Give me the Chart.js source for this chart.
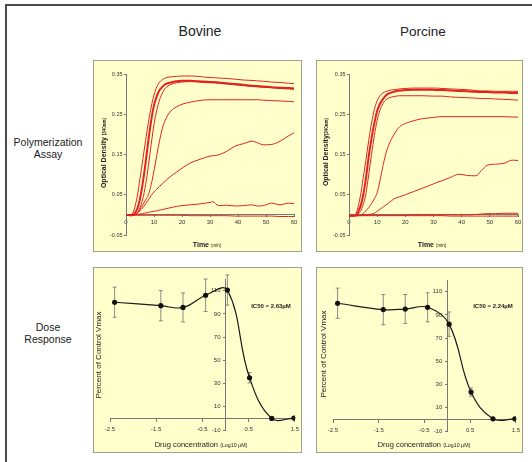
<!DOCTYPE html>
<html>
<head>
<meta charset="utf-8">
<script src="https://cdn.jsdelivr.net/npm/chart.js@4.4.0/dist/chart.umd.min.js"></script>
<style>
  body { margin: 0; background: #fff; font-family: "Liberation Sans", Arial, sans-serif; }
  #fig { position: relative; width: 532px; height: 462px; overflow: hidden; }
  .frame { position: absolute; left: 5px; top: 4px; width: 540px; height: 470px; border-top: 2px solid #4a4a4a; border-left: 2px solid #4a4a4a; }
  .panel { position: absolute; background: #ffffcc; border: 1px solid #a09f90; box-sizing: border-box; }
  .panel canvas { position: absolute; left: 0; top: 0; }
  .txt { position: absolute; white-space: nowrap; color: #222; transform: translate(-50%, -50%); }
  .rot { transform: translate(-50%, -50%) rotate(-90deg); }
</style>
</head>
<body>
<div id="fig">
  <div class="frame"></div>

  <div class="txt" style="left:200px; top:31px; font-size:14px;">Bovine</div>
  <div class="txt" style="left:423px; top:31px; font-size:13.5px;">Porcine</div>

  <div class="txt" style="left:48px; top:148px; font-size:10.5px; text-align:center; line-height:12px;">Polymerization<br>Assay</div>
  <div class="txt" style="left:48px; top:333px; font-size:10.5px; text-align:center; line-height:12px;">Dose<br>Response</div>

  <div class="panel" style="left:93px; top:60px; width:209px; height:192px;"><canvas id="polyBov" width="209" height="192"></canvas></div>
  <div class="panel" style="left:316px; top:60px; width:207px; height:192px;"><canvas id="polyPor" width="207" height="192"></canvas></div>
  <div class="panel" style="left:93px; top:267px; width:209px; height:186px;"><canvas id="doseBov" width="209" height="186"></canvas></div>
  <div class="panel" style="left:316px; top:267px; width:207px; height:186px;"><canvas id="dosePor" width="207" height="186"></canvas></div>

  <div class="txt rot" style="left:103px; top:153px; font-size:7px; font-weight:bold;">Optical Density <span style="font-size:4.5px;">(340nm)</span></div>
  <div class="txt rot" style="left:325px; top:152px; font-size:7px; font-weight:bold;">Optical Density<span style="font-size:4.5px;">(340nm)</span></div>
  <div class="txt" style="left:207px; top:244px; font-size:7px; font-weight:bold;">Time <span style="font-size:4.5px; font-weight:normal;">(min)</span></div>
  <div class="txt" style="left:432px; top:244px; font-size:7px; font-weight:bold;">Time <span style="font-size:4.5px; font-weight:normal;">(min)</span></div>

  <div class="txt rot" style="left:98px; top:355px; font-size:8px;">Percent of Control Vmax</div>
  <div class="txt rot" style="left:323px; top:354px; font-size:8px;">Percent of Control Vmax</div>
  <div class="txt" style="left:201px; top:444px; font-size:7.5px;">Drug concentration <span style="font-size:5.3px;">(Log10 µM)</span></div>
  <div class="txt" style="left:424px; top:444px; font-size:7.5px;">Drug concentration <span style="font-size:5.3px;">(Log10 µM)</span></div>

  <div class="txt" style="left:271px; top:306px; font-size:6px; font-weight:bold;">IC50 = 2.63µM</div>
  <div class="txt" style="left:493px; top:306px; font-size:6px; font-weight:bold;">IC50 = 2.24µM</div>
</div>

<script>
// time points (min) shared by all polymerization traces
const timeMin = [0, 2, 4, 5, 6, 7, 8, 9, 10, 11, 12, 13, 14, 16, 18, 20, 23, 26, 30, 31, 33, 36, 39, 42, 45, 47, 49, 52, 55, 58, 60];
const timeTicks = [0, 10, 20, 30, 40, 50, 60];
const odTicks = [-0.05, 0.05, 0.15, 0.25, 0.35];

// bovine OD340 traces
const bov1 = [0, 0.001, 0.045, 0.09, 0.137, 0.185, 0.23, 0.268, 0.298, 0.318, 0.33, 0.336, 0.34, 0.343, 0.344, 0.345, 0.345, 0.344, 0.341, 0.341, 0.34, 0.339, 0.337, 0.335, 0.334, 0.333, 0.332, 0.33, 0.329, 0.327, 0.326];
const bov2 = [0, -0.001, 0.015, 0.04, 0.08, 0.13, 0.185, 0.235, 0.272, 0.295, 0.31, 0.318, 0.324, 0.329, 0.332, 0.333, 0.333, 0.332, 0.33, 0.33, 0.329, 0.327, 0.325, 0.323, 0.321, 0.32, 0.319, 0.317, 0.316, 0.315, 0.314];
const bov3 = [0, -0.002, 0.005, 0.018, 0.04, 0.075, 0.122, 0.175, 0.225, 0.26, 0.286, 0.303, 0.314, 0.324, 0.328, 0.33, 0.331, 0.33, 0.328, 0.328, 0.327, 0.325, 0.323, 0.321, 0.319, 0.318, 0.317, 0.316, 0.314, 0.313, 0.312];
const bov4 = [0, -0.001, 0.005, 0.014, 0.025, 0.037, 0.05, 0.075, 0.11, 0.148, 0.185, 0.215, 0.235, 0.258, 0.268, 0.275, 0.28, 0.284, 0.286, 0.286, 0.286, 0.286, 0.286, 0.286, 0.286, 0.286, 0.285, 0.284, 0.283, 0.282, 0.281];
const bov5 = [0, 0, 0.004, 0.01, 0.018, 0.027, 0.037, 0.048, 0.057, 0.064, 0.071, 0.077, 0.084, 0.096, 0.106, 0.116, 0.129, 0.137, 0.146, 0.147, 0.149, 0.158, 0.171, 0.177, 0.183, 0.179, 0.174, 0.175, 0.183, 0.196, 0.204];
const bov6 = [0, 0, 0.001, 0.002, 0.003, 0.005, 0.006, 0.008, 0.009, 0.01, 0.012, 0.013, 0.015, 0.018, 0.021, 0.023, 0.025, 0.027, 0.031, 0.033, 0.023, 0.024, 0.022, 0.023, 0.025, 0.022, 0.023, 0.029, 0.025, 0.029, 0.028];
const bov7 = [0, -0.001, -0.001, -0.001, -0.001, -0.001, -0.001, -0.001, -0.001, -0.001, -0.001, -0.001, -0.001, -0.001, -0.001, -0.001, -0.002, -0.002, -0.002, -0.002, -0.002, -0.002, -0.003, -0.003, -0.003, -0.003, -0.003, -0.003, -0.004, -0.004, -0.004];

// porcine OD340 traces
const por1 = [-0.002, -0.001, 0.045, 0.09, 0.136, 0.185, 0.228, 0.262, 0.283, 0.296, 0.303, 0.306, 0.309, 0.311, 0.313, 0.314, 0.315, 0.315, 0.315, 0.315, 0.314, 0.313, 0.312, 0.311, 0.309, 0.308, 0.308, 0.307, 0.307, 0.307, 0.307];
const por2 = [-0.002, -0.002, 0.02, 0.048, 0.09, 0.145, 0.19, 0.228, 0.258, 0.276, 0.287, 0.296, 0.301, 0.306, 0.309, 0.31, 0.311, 0.311, 0.311, 0.31, 0.31, 0.309, 0.308, 0.307, 0.306, 0.305, 0.305, 0.304, 0.304, 0.303, 0.303];
const por3 = [-0.002, -0.002, 0.008, 0.025, 0.052, 0.1, 0.15, 0.197, 0.235, 0.26, 0.276, 0.285, 0.29, 0.294, 0.296, 0.296, 0.296, 0.296, 0.295, 0.295, 0.295, 0.293, 0.292, 0.291, 0.29, 0.289, 0.289, 0.288, 0.287, 0.286, 0.285];
const por4 = [-0.002, -0.002, -0.001, 0.003, 0.01, 0.018, 0.028, 0.04, 0.055, 0.085, 0.12, 0.15, 0.172, 0.2, 0.219, 0.227, 0.234, 0.239, 0.242, 0.243, 0.244, 0.244, 0.244, 0.244, 0.244, 0.244, 0.244, 0.244, 0.244, 0.243, 0.243];
const por5 = [-0.002, -0.002, -0.002, -0.001, 0, 0.001, 0.002, 0.004, 0.009, 0.014, 0.019, 0.024, 0.029, 0.04, 0.045, 0.05, 0.058, 0.066, 0.077, 0.08, 0.085, 0.093, 0.101, 0.098, 0.097, 0.11, 0.123, 0.126, 0.128, 0.136, 0.135];
const por6 = [-0.001, -0.001, -0.001, -0.001, -0.001, -0.001, -0.001, -0.001, -0.001, -0.001, -0.001, -0.001, -0.001, -0.001, -0.001, -0.001, 0, 0, 0, 0, 0, 0, 0, 0, 0.001, 0.002, 0.003, 0.003, 0.004, 0.004, 0.004];
const por7 = [-0.002, -0.002, -0.002, -0.002, -0.002, -0.002, -0.002, -0.002, -0.002, -0.002, -0.002, -0.002, -0.002, -0.002, -0.002, -0.002, -0.002, -0.002, -0.002, -0.002, -0.002, -0.003, -0.003, -0.003, -0.003, -0.003, -0.003, -0.003, -0.003, -0.003, -0.003];

// dose response, x = log10 concentration (uM)
const logConc = [-2.4, -1.4, -0.92, -0.43, 0.04, 0.52, 1.0, 1.48];
const doseXTicks = [-2.5, -1.5, -0.5, 0.5, 1.5];
const doseYTicks = [-10, 10, 30, 50, 70, 90, 110];
const bovVmax = [100, 97, 95.5, 106, 110.5, 35, 0, 0.3];
const bovErr = [13, 13, 12.5, 14, 13, 4.5, 1, 0.5];
const porVmax = [100, 94.5, 95, 96.5, 82, 23.5, 0.5, 0.5];
const porErr = [13, 13, 12.5, 12.5, 10.5, 3.5, 1, 0.5];

const FONT = "'Liberation Sans', Arial, sans-serif";
const RED = '#e0231d';

// vertical error bars with small caps
const errorBars = {
  id: 'errorBars',
  beforeDatasetsDraw(chart) {
    const ctx = chart.ctx;
    const xs = chart.scales.x, ys = chart.scales.y;
    chart.data.datasets.forEach(ds => {
      if (!ds.errors) return;
      ctx.save();
      ctx.strokeStyle = '#707070';
      ctx.lineWidth = 0.8;
      ds.data.forEach((p, i) => {
        const e = ds.errors[i];
        const px = xs.getPixelForValue(p.x);
        const top = ys.getPixelForValue(p.y + e);
        const bot = ys.getPixelForValue(p.y - e);
        ctx.beginPath();
        ctx.moveTo(px, top); ctx.lineTo(px, bot);
        ctx.moveTo(px - 2, top); ctx.lineTo(px + 2, top);
        ctx.moveTo(px - 2, bot); ctx.lineTo(px + 2, bot);
        ctx.stroke();
      });
      ctx.restore();
    });
  }
};

function fixedTicks(list) {
  return s => { s.ticks = list.map(v => ({ value: v })); };
}

function plotPoly(id, series, pad) {
  const datasets = series.map((ys, i) => ({
    data: timeMin.map((t, j) => ({ x: t, y: ys[j] })),
    borderColor: RED,
    borderWidth: i == 1 ? 2 : 1,
    pointRadius: 0,
    cubicInterpolationMode: 'monotone',
    fill: false
  }));
  new Chart(document.getElementById(id), {
    type: 'line',
    data: { datasets: datasets },
    options: {
      responsive: false,
      animation: false,
      devicePixelRatio: 1,
      layout: { padding: { left: 0, top: pad.top, right: pad.right, bottom: pad.bottom } },
      plugins: { legend: { display: false }, tooltip: { enabled: false } },
      scales: {
        x: {
          type: 'linear', position: { y: 0 }, min: 0, max: 60,
          afterBuildTicks: fixedTicks(timeTicks),
          afterFit: s => { s.height = 0; },
          grid: { drawOnChartArea: false, tickLength: 2, color: '#777' },
          border: { color: '#777' },
          ticks: { font: { size: 6, family: FONT }, color: '#333', padding: 2, maxRotation: 0, autoSkip: false }
        },
        y: {
          type: 'linear', position: 'left', min: -0.05, max: 0.35,
          afterBuildTicks: fixedTicks(odTicks),
          afterFit: s => { s.width = pad.left; },
          grid: { drawOnChartArea: false, tickLength: 2, color: '#777' },
          border: { color: '#777' },
          ticks: { font: { size: 5.5, family: FONT }, color: '#333', padding: 1.5, callback: v => v.toFixed(2) }
        }
      }
    }
  });
}

function plotDose(id, vmax, err, pad) {
  new Chart(document.getElementById(id), {
    type: 'line',
    data: {
      datasets: [{
        data: logConc.map((x, i) => ({ x: x, y: vmax[i] })),
        errors: err,
        borderColor: '#1a1a1a',
        borderWidth: 1.2,
        tension: 0.4,
        pointRadius: 2,
        pointBackgroundColor: '#111',
        pointBorderColor: '#111',
        fill: false
      }]
    },
    options: {
      responsive: false,
      animation: false,
      devicePixelRatio: 1,
      layout: { padding: pad },
      plugins: { legend: { display: false }, tooltip: { enabled: false } },
      scales: {
        x: {
          type: 'linear', position: { y: 0 }, min: -2.5, max: 1.5,
          afterBuildTicks: fixedTicks(doseXTicks),
          afterFit: s => { s.height = 0; },
          grid: { drawOnChartArea: false, tickLength: 3, color: '#777' },
          border: { color: '#777' },
          ticks: { font: { size: 6, family: FONT }, color: '#333', padding: 4, maxRotation: 0, autoSkip: false, callback: v => v.toFixed(1) }
        },
        y: {
          type: 'linear', position: { x: 0 }, min: -10, max: 120,
          afterBuildTicks: fixedTicks(doseYTicks),
          afterFit: s => { s.width = 0; },
          grid: { drawOnChartArea: false, tickLength: 2, color: '#777' },
          border: { color: '#777' },
          // labels sit right-aligned on the axis line, pad them off it
          ticks: { font: { size: 6, family: FONT }, color: '#333', callback: v => v + '   ' }
        }
      }
    },
    plugins: [errorBars]
  });
}

plotPoly('polyBov', [bov1, bov2, bov3, bov4, bov5, bov6, bov7], { left: 32, top: 13, right: 9, bottom: 18 });
plotPoly('polyPor', [por1, por2, por3, por4, por5, por6, por7], { left: 32, top: 13, right: 6, bottom: 18 });
plotDose('doseBov', bovVmax, bovErr, { left: 16, top: 11, right: 8, bottom: 24 });
plotDose('dosePor', porVmax, porErr, { left: 16, top: 12, right: 7, bottom: 23 });
</script>
</body>
</html>
